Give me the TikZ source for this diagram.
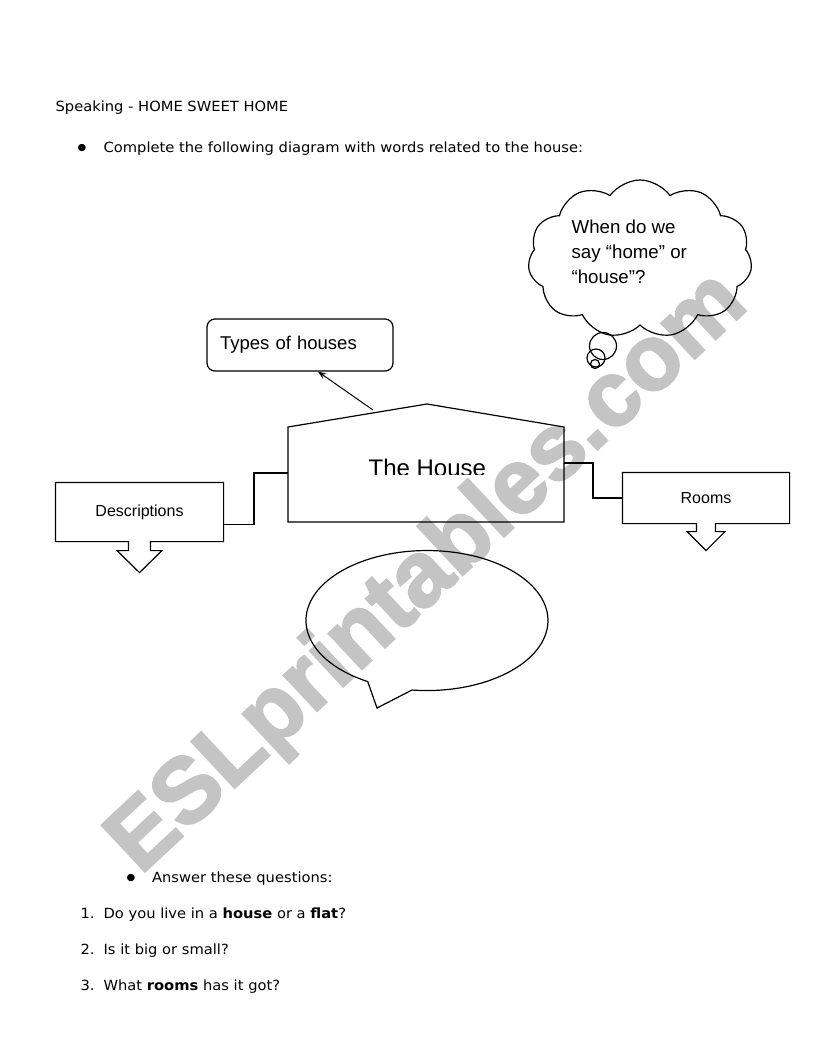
\documentclass[tikz,border=0pt]{standalone}
\usepackage{fontspec}
\setmainfont[FakeStretch=1.05]{DejaVu Sans}
\newfontfamily\arialf{Liberation Sans}
\newfontfamily\wmfont[FakeBold=2.5]{Liberation Sans Bold}
\usetikzlibrary{shapes.symbols,arrows.meta,calc}
\definecolor{wmgray}{RGB}{196,196,196}
\begin{document}
\begin{tikzpicture}[x=1pt,y=-1pt,line width=1.2pt,
  doc/.style={font=\fontsize{14}{16}\selectfont,anchor=base west,inner sep=0pt},
  bul/.style={font=\fontsize{9.5}{10}\selectfont,anchor=center,inner sep=0pt},
  lab/.style={font=\arialf\fontsize{16}{19}\selectfont,inner sep=0pt},
  outline/.style={draw=black,line width=1.2pt,line join=miter}]
\useasboundingbox (0,0) rectangle (821,1062);
\fill[white] (0,0) rectangle (821,1062);

% watermark (behind everything)
\node[anchor=base west,rotate=43,inner sep=0pt,text=wmgray,
      font=\wmfont\fontsize{92}{92}\selectfont] (wm) at (140,876) {ESLprintables.com};

% heading texts
\node[doc] (title) at (55,111.5) {Speaking - HOME SWEET HOME};
\node[bul] (bul1) at (82,148.5) {●};
\node[doc] (instr) at (103,153) {Complete the following diagram with words related to the house:};

% house
\coordinate (hbl) at (288,522);
\coordinate (htl) at (288,427);
\coordinate (hpk) at (427,404);
\coordinate (htr) at (564,427);
\coordinate (hbr) at (564,522);
\draw[outline] (hbl) -- (htl) -- (hpk) -- (htr) -- (hbr) -- cycle;
\begin{scope}
  \clip (288,430) rectangle (564,474);
  \node[anchor=base west,inner sep=0pt,font=\arialf\fontsize{24}{28}\selectfont] (housetext) at (368,476) {The House};
\end{scope}

% types of houses
\node[outline,rounded corners=8pt,minimum width=186pt,minimum height=52pt,
      text width=160pt,align=left,inner xsep=13pt,inner ysep=0pt,
      font=\arialf\fontsize{18.5}{22}\selectfont] (types) at (300,345) {Types of houses};
\coordinate (roofpt) at (373,410);
\draw[line width=1pt,-{Stealth[length=8pt,width=6pt]}] (roofpt) -- ($(types.south)+(18,0)$);

% descriptions callout
\node[lab,minimum width=167pt,minimum height=58pt] (desc) at (139.5,512) {Descriptions};
\draw[outline] (desc.south west) -- (desc.north west) -- (desc.north east) -- (desc.south east)
  -- ($(desc.south)+(11,0)$) -- ($(desc.south)+(11,9)$) -- ($(desc.south)+(22.5,9)$)
  -- ($(desc.south)+(0,31)$) -- ($(desc.south)+(-22.5,9)$) -- ($(desc.south)+(-11,9)$)
  -- ($(desc.south)+(-11,0)$) -- cycle;

% rooms callout
\node[lab,minimum width=166pt,minimum height=50pt] (rooms) at (706,498) {Rooms};
\draw[outline] (rooms.south west) -- (rooms.north west) -- (rooms.north east) -- (rooms.south east)
  -- ($(rooms.south)+(9.5,0)$) -- ($(rooms.south)+(9.5,8)$) -- ($(rooms.south)+(19,8)$)
  -- ($(rooms.south)+(0,27)$) -- ($(rooms.south)+(-19,8)$) -- ($(rooms.south)+(-9.5,8)$)
  -- ($(rooms.south)+(-9.5,0)$) -- cycle;

% connectors
\coordinate (hleft) at (288,473);
\coordinate (hright) at (564,463);
\draw[outline] (hleft) -- ++(-34,0) |- ($(desc.south east)+(0,-17)$);
\draw[outline] (hright) -- ++(29,0) |- (rooms.west);

% speech bubble
\coordinate (bubc) at (427,620);
\coordinate (bubtip) at (377,708);
\draw[outline] (412,690) arc[start angle=97.1,end angle=-240.7,x radius=121,y radius=70]
  -- (bubtip) -- cycle;

% thought cloud
\node[cloud,outline,cloud puffs=11,cloud puff arc=110,aspect=1.42,
      minimum width=224pt,minimum height=158pt,inner sep=0pt] (cloud) at (640,259) {};
\node[circle,outline,minimum size=27pt,inner sep=0pt] (tb1) at (603,346) {};
\node[circle,outline,minimum size=18pt,inner sep=0pt] (tb2) at (596,358) {};
\node[circle,outline,minimum size=9pt,inner sep=0pt] (tb3) at (595,364) {};
\node[anchor=north west,align=left,inner sep=0pt,
      font=\arialf\fontsize{18.7}{25}\selectfont] (cloudtext) at (571,219.5)
      {When do we\\say “home” or\\“house”?};

% questions
\node[bul] (bul2) at (131,878) {●};
\node[doc] (ans) at (151.5,882.5) {Answer these questions:};
\node[doc] (n1) at (80,918) {1.};
\node[doc] (q1) at (103,918) {Do you live in a \textbf{house} or a \textbf{flat}?};
\node[doc] (n2) at (80,954) {2.};
\node[doc] (q2) at (103,954) {Is it big or small?};
\node[doc] (n3) at (80,990) {3.};
\node[doc] (q3) at (103,990) {What \textbf{rooms} has it got?};
\end{tikzpicture}
\end{document}
